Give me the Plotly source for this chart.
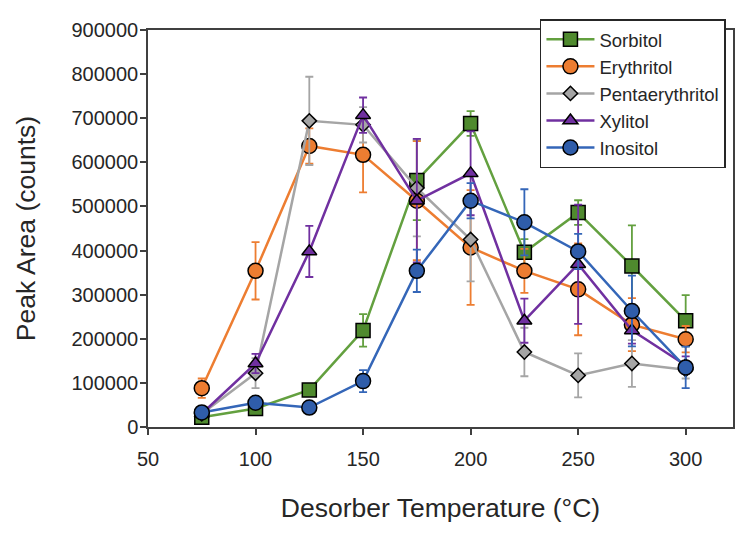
import plotly.graph_objects as go

temps = [75, 100, 125, 150, 175, 200, 225, 250, 275, 300]

sorbitol = [22000, 42000, 84000, 219000, 559000, 688000, 396000, 486000, 365000, 241000]
sorbitol_err = [8000, 10000, 10000, 37000, 90000, 28000, 30000, 28000, 92000, 58000]

erythritol = [88000, 354000, 637000, 617000, 513000, 407000, 354000, 312000, 232000, 199000]
erythritol_err = [22000, 65000, 40000, 85000, 135000, 130000, 50000, 104000, 60000, 30000]

pentaerythritol = [30000, 122000, 694000, 685000, 542000, 425000, 170000, 117000, 144000, 130000]
pentaerythritol_err = [10000, 34000, 100000, 40000, 110000, 95000, 55000, 50000, 53000, 20000]

xylitol = [30000, 144000, 398000, 707000, 513000, 575000, 241000, 369000, 219000, 140000]
xylitol_err = [10000, 22000, 58000, 40000, 140000, 95000, 50000, 135000, 30000, 20000]

inositol = [33000, 55000, 44000, 104000, 354000, 513000, 464000, 398000, 263000, 135000]
inositol_err = [10000, 8000, 8000, 25000, 48000, 40000, 75000, 40000, 80000, 47000]

series = [
    ("Sorbitol", sorbitol, sorbitol_err, "#63A03F", "#4F8A2E", "square", 14),
    ("Erythritol", erythritol, erythritol_err, "#ED7D31", "#ED7D31", "circle", 15),
    ("Pentaerythritol", pentaerythritol, pentaerythritol_err, "#A5A5A5", "#A5A5A5", "diamond", 11),
    ("Xylitol", xylitol, xylitol_err, "#7030A0", "#7030A0", "triangle-up", 13),
    ("Inositol", inositol, inositol_err, "#3466B8", "#2F5DAA", "circle", 15),
]

fig = go.Figure()
for name, vals, errs, lc, fc, sym, sz in series:
    fig.add_trace(go.Scatter(
        x=temps, y=vals, name=name, mode="lines+markers",
        line=dict(color=lc, width=2.5),
        marker=dict(symbol=sym, size=sz, color=fc, line=dict(color="black", width=1.5)),
        error_y=dict(type="data", array=errs, visible=True, color=lc, thickness=1.8, width=4),
    ))

font_family = "Liberation Sans, Arial, sans-serif"
# page body has an 8px margin, so the figure is 8px smaller than the window
fig.update_layout(
    width=738, height=525,
    margin=dict(l=140, r=11, t=12, b=106),
    paper_bgcolor="white", plot_bgcolor="white",
    font=dict(family=font_family, color="#262626", size=20),
    showlegend=True,
    legend=dict(
        x=0.67, y=1.027, xanchor="left", yanchor="top",
        bgcolor="white", bordercolor="#262626", borderwidth=1.5,
        font=dict(size=18.5, color="#262626"),
        tracegroupgap=0, itemwidth=48,
    ),
    xaxis=dict(
        range=[50, 322], tickvals=[50, 100, 150, 200, 250, 300],
        showgrid=False, zeroline=False,
        showline=True, linecolor="#404040", linewidth=1.5, mirror=True,
        ticks="outside", ticklen=6, tickcolor="#404040", tickwidth=1.5,
        tickfont=dict(size=20), ticklabelstandoff=7,
        title=dict(text="Desorber Temperature (°C)", font=dict(size=26.5), standoff=30),
    ),
    yaxis=dict(
        range=[0, 900000], tickvals=list(range(0, 900001, 100000)),
        tickformat="d", ticklabeloverflow="allow",
        showgrid=False, zeroline=False,
        showline=True, linecolor="#404040", linewidth=1.5, mirror=True,
        ticks="outside", ticklen=6, tickcolor="#404040", tickwidth=1.5,
        tickfont=dict(size=20), ticklabelstandoff=-2,
        title=dict(text="Peak Area (counts)", font=dict(size=26.5), standoff=28),
    ),
)

fig.write_html("out.html")
